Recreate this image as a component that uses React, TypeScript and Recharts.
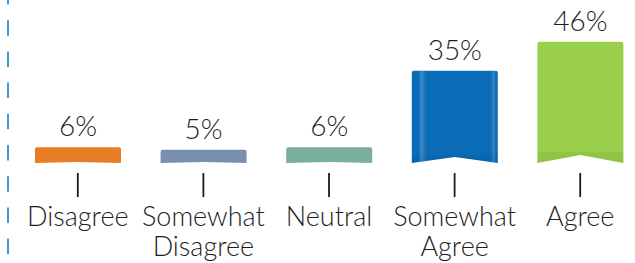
import { BarChart, Bar, XAxis, YAxis, LabelList } from 'recharts';

const categories = ['Disagree', 'Somewhat Disagree', 'Neutral', 'Somewhat Agree', 'Agree'];
const values = [6, 5, 6, 35, 46];
const colors = ['#E87D25', '#7890AE', '#7AB09B', '#0A6BB7', '#9ACF4B'];

const data = categories.map((label, i) => ({ label, value: values[i] }));

const FONT = 'Lato, "Open Sans", sans-serif';

// ribbon-like bar: rounded top, shallow V notch at the bottom
function RibbonBar(props: any) {
  const { x, y, width: w, height: h, index } = props;
  if (!h || h <= 0) return null;
  const notch = Math.max(1, h * 0.066);
  const r = 2;
  const d = `M${x},${y + r} Q${x},${y} ${x + r},${y} L${x + w - r},${y} Q${x + w},${y} ${x + w},${y + r} L${x + w},${y + h} L${x + w / 2},${y + h - notch} L${x},${y + h} Z`;
  const tall = h > 40;
  const shadeId = `shade-${index}`;
  const gloss = index === 3;
  return (
    <g>
      <defs>
        <linearGradient id={shadeId} x1="0" y1="0" x2="0" y2="1">
          <stop offset="0" stopColor="#000" stopOpacity={0} />
          <stop offset="0.91" stopColor="#000" stopOpacity={0} />
          <stop offset="0.91" stopColor="#000" stopOpacity={0.06} />
          <stop offset="1" stopColor="#000" stopOpacity={0.06} />
        </linearGradient>
        <linearGradient id={`gloss-${index}`} x1="0" y1="0" x2="1" y2="0">
          <stop offset="0" stopColor="#fff" stopOpacity={0} />
          <stop offset="0.08" stopColor="#fff" stopOpacity={0} />
          <stop offset="0.11" stopColor="#fff" stopOpacity={0.22} />
          <stop offset="0.14" stopColor="#fff" stopOpacity={0.1} />
          <stop offset="0.18" stopColor="#fff" stopOpacity={0} />
          <stop offset="0.92" stopColor="#fff" stopOpacity={0} />
          <stop offset="0.95" stopColor="#fff" stopOpacity={0.18} />
          <stop offset="0.98" stopColor="#fff" stopOpacity={0} />
        </linearGradient>
      </defs>
      <path d={d} fill={colors[index]} />
      {gloss && <path d={d} fill={`url(#gloss-${index})`} />}
      {tall && <path d={d} fill={`url(#${shadeId})`} />}
    </g>
  );
}

function CategoryTick(props: any) {
  const { x, y, payload } = props;
  const lines = String(payload.value).split(' ');
  return (
    <g>
      <line x1={x} x2={x} y1={y + 10} y2={y + 34} stroke="#1a1a1a" strokeWidth={1.8} />
      {lines.map((t, i) => (
        <text
          key={i}
          x={x}
          y={y + 63 + i * 30}
          textAnchor="middle"
          fontFamily={FONT}
          fontWeight={300}
          fontSize={27}
          fill="#1e1e1e"
        >
          {t}
        </text>
      ))}
    </g>
  );
}

export default function App() {
  return (
    <div style={{ position: 'absolute', left: 0, top: 0, width: 635, height: 263, overflow: 'hidden', background: '#fff' }}>
      <BarChart
        width={660}
        height={263}
        data={data}
        margin={{ top: 5, right: 17, bottom: 0, left: 15 }}
      >
        <XAxis
          dataKey="label"
          height={100}
          axisLine={false}
          tickLine={false}
          tickSize={0}
          tickMargin={0}
          interval={0}
          tick={<CategoryTick />}
        />
        <YAxis hide domain={[0, 60]} />
        <Bar dataKey="value" barSize={86} shape={<RibbonBar />} isAnimationActive={false}>
          <LabelList
            dataKey="value"
            position="top"
            offset={11}
            formatter={(v: any) => `${v}%`}
            fill="#1e1e1e"
            fontFamily={FONT}
            fontWeight={300}
            fontSize={28}
          />
        </Bar>
      </BarChart>
      <svg width={635} height={263} style={{ position: 'absolute', left: 0, top: 0, pointerEvents: 'none' }}>
        <line x1={8} x2={8} y1={-11} y2={263} stroke="#4A96CF" strokeWidth={2} strokeDasharray="15.5 15.7" />
      </svg>
    </div>
  );
}
